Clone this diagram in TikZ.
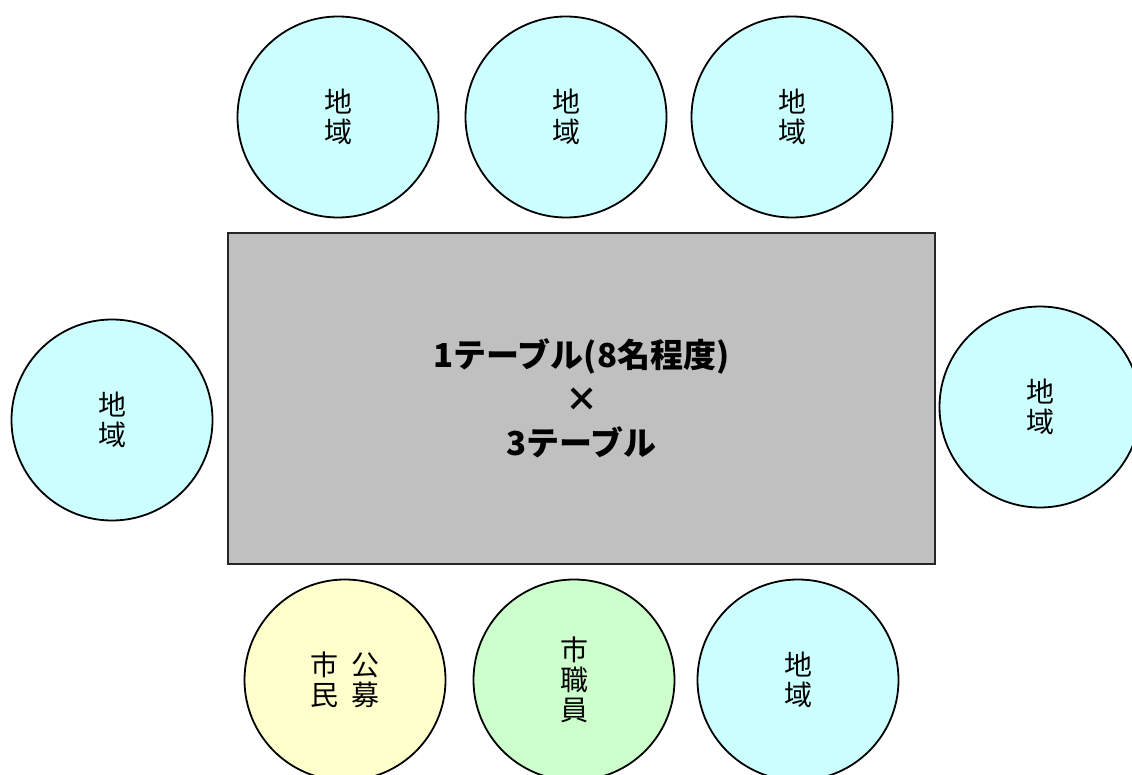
\documentclass[tikz,border=0pt]{standalone}
\usepackage{fontspec}
\newfontfamily\cjk{Noto Sans CJK JP}
\definecolor{seatblue}{HTML}{CCFFFF}
\definecolor{seatyellow}{HTML}{FFFFCC}
\definecolor{seatgreen}{HTML}{CCFFCC}
\definecolor{tablegray}{HTML}{C0C0C0}
\tikzset{
  seat/.style={circle, draw=black, line width=1.8pt, minimum size=201pt, inner sep=0pt,
    align=center, font=\cjk\fontsize{28}{30}\selectfont},
  region/.style={seat, fill=seatblue},
  tablebox/.style={draw=black!85, line width=2.6pt, fill=tablegray, minimum width=707pt,
    minimum height=331pt, inner sep=0pt, align=center,
    font=\cjk\bfseries\fontsize{33}{44}\selectfont}
}
\begin{document}
\begin{tikzpicture}[x=1pt,y=-1pt]
\useasboundingbox (0,0) rectangle (1132,775);
\node[tablebox] (table) at (581.5,398.5) {1テーブル(8名程度)\\×\\3テーブル};
\node[region] (t1) at (338,117) {地\\域};
\node[region] (t2) at (566,117) {地\\域};
\node[region] (t3) at (792,117) {地\\域};
\node[region] (l) at (112,420) {地\\域};
\node[region] (r) at (1040,407) {地\\域};
\node[seat, fill=seatyellow] (b1) at (345,680) {市\hspace{13pt}公\\民\hspace{13pt}募};
\node[seat, fill=seatgreen] (b2) at (574,680) {市\\職\\員};
\node[region] (b3) at (798,680) {地\\域};
\end{tikzpicture}
\end{document}
